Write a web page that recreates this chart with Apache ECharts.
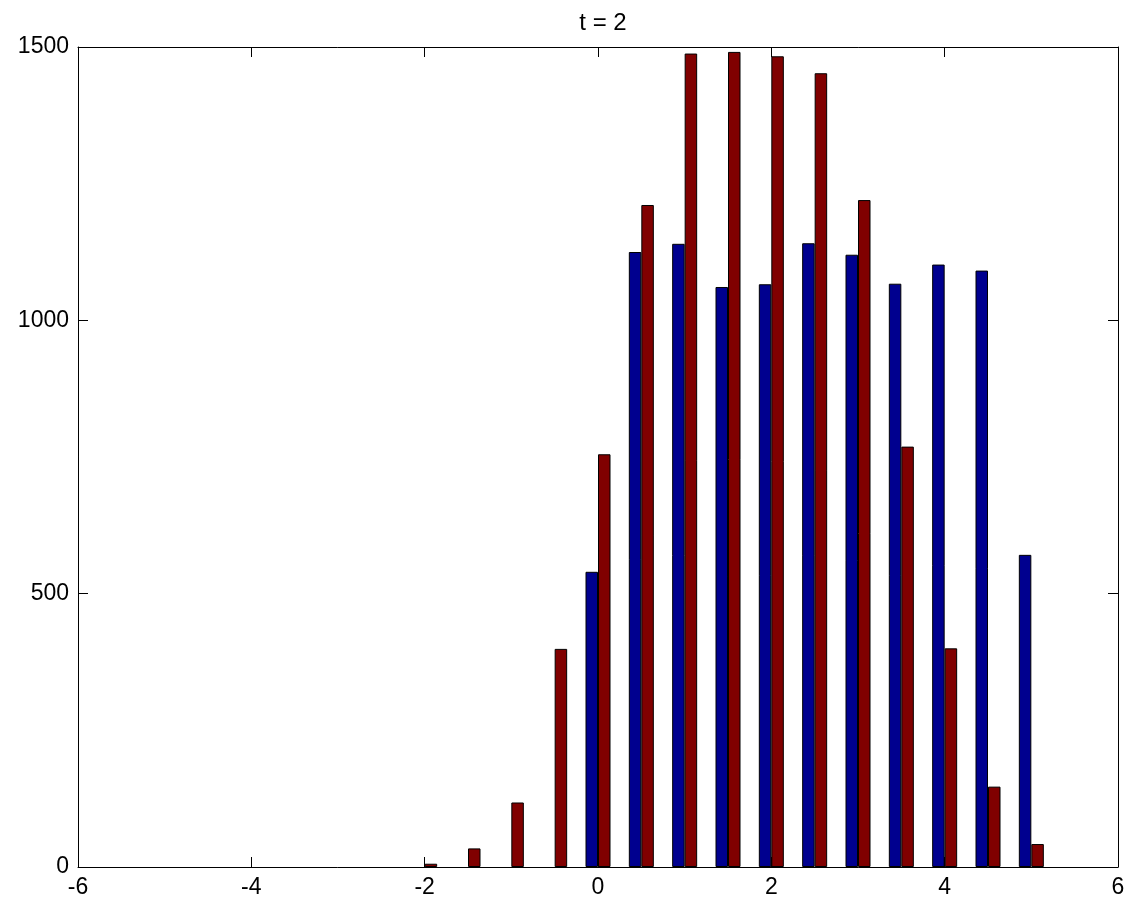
<!DOCTYPE html>
<html>
<head>
<meta charset="utf-8">
<script src="https://cdn.jsdelivr.net/npm/echarts@6/dist/echarts.min.js"></script>
<style>
  html, body { margin: 0; padding: 0; background: #fff; }
  #chart { width: 1132px; height: 904px; }
</style>
</head>
<body>
<div id="chart"></div>
<script>
// bin centres and counts
const centers = [-2, -1.5, -1, -0.5, 0, 0.5, 1, 1.5, 2, 2.5, 3, 3.5, 4, 4.5, 5];
const blueCounts = [0, 0, 0, 0, 540, 1125, 1140, 1061, 1066, 1141, 1120, 1067, 1102, 1091, 571];
const redCounts = [6, 34, 118, 399, 755, 1211, 1488, 1491, 1483, 1452, 1220, 769, 400, 147, 42];
const xTicks = [-6, -4, -2, 0, 2, 4, 6];
const yTicks = [0, 500, 1000, 1500];

const font = 'Liberation Sans, Arial, sans-serif';

const axisLine = {
    show: true,
    onZero: false,
    lineStyle: { color: '#000', width: 1 }
};

const axisTick = {
    show: true,
    inside: true,
    length: 10,
    lineStyle: { color: '#000', width: 1 }
};

const labelStyle = {
    color: '#000',
    fontFamily: font,
    fontSize: 23,
    formatter: (v) => String(v)
};

// empty bins are left out, matlab draws nothing visible for them
const pairs = (vals) => centers.map((c, i) => [c, vals[i]]).filter(p => p[1] > 0);

const option = {
    animation: false,
    backgroundColor: '#fff',
    title: {
        text: 't = 2',
        left: 598,
        textAlign: 'center',
        top: 6,
        textStyle: { color: '#000', fontFamily: font, fontSize: 24, fontWeight: 'normal' }
    },
    grid: { left: 78, right: 14, top: 47, bottom: 37 },
    xAxis: [
        {
            type: 'value',
            min: xTicks[0],
            max: xTicks[xTicks.length - 1],
            interval: 2,
            axisLine,
            axisTick,
            splitLine: { show: false },
            axisLabel: { ...labelStyle, margin: 9 }
        },
        {
            type: 'value',
            position: 'top',
            min: xTicks[0],
            max: xTicks[xTicks.length - 1],
            interval: 2,
            axisLine,
            axisTick,
            splitLine: { show: false },
            axisLabel: { show: false }
        }
    ],
    yAxis: [
        {
            type: 'value',
            min: yTicks[0],
            max: yTicks[yTicks.length - 1],
            interval: 500,
            axisLine,
            axisTick,
            splitLine: { show: false },
            axisLabel: { ...labelStyle, margin: 9 }
        },
        {
            type: 'value',
            position: 'right',
            min: yTicks[0],
            max: yTicks[yTicks.length - 1],
            interval: 500,
            axisLine,
            axisTick,
            splitLine: { show: false },
            axisLabel: { show: false }
        }
    ],
    series: [
        {
            name: 'blue',
            type: 'bar',
            xAxisIndex: 0,
            yAxisIndex: 0,
            data: pairs(blueCounts),
            barWidth: 12.5,
            barGap: '0%',
            itemStyle: { color: '#00008f', borderColor: '#000', borderWidth: 1 }
        },
        {
            name: 'red',
            type: 'bar',
            xAxisIndex: 0,
            yAxisIndex: 0,
            data: pairs(redCounts),
            barWidth: 12.5,
            barGap: '0%',
            itemStyle: { color: '#800000', borderColor: '#000', borderWidth: 1 }
        }
    ]
};

const chart = echarts.init(document.getElementById('chart'));
chart.setOption(option);
window.addEventListener('resize', () => {
    chart.resize();
});
</script>
</body>
</html>
